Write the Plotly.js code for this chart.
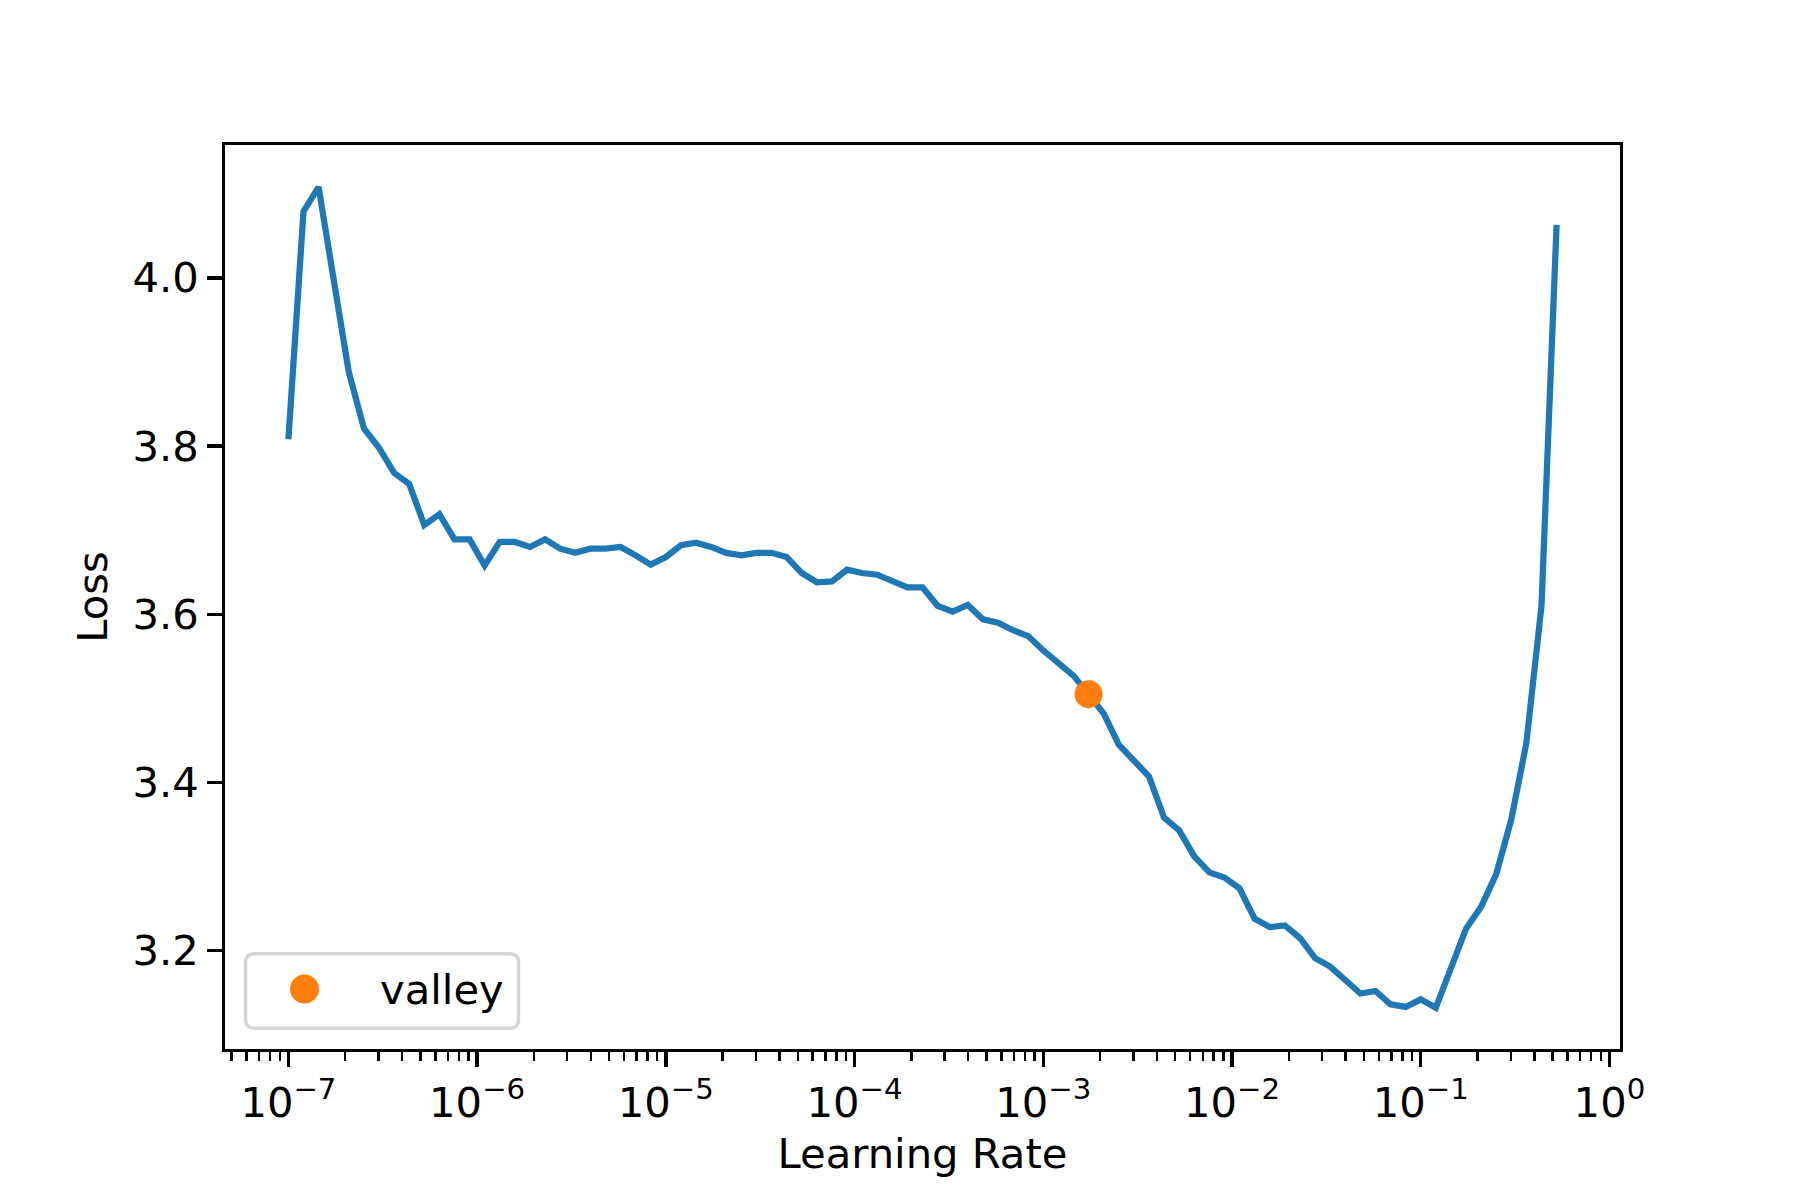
<!DOCTYPE html>
<html>
<head>
<meta charset="utf-8">
<script src="https://cdn.plot.ly/plotly-3.0.1.min.js"></script>
<style>html,body{margin:0;padding:0;background:#fff;}#chart{width:1800px;height:1200px;}</style>
</head>
<body>
<div id="chart"></div>
<script>
// Learning rates (exponential schedule)
const learningRates = [
  1.000e-7, 1.202e-7, 1.445e-7, 1.738e-7, 2.089e-7, 2.512e-7, 3.020e-7, 3.631e-7, 4.365e-7, 5.248e-7,
  6.310e-7, 7.586e-7, 9.120e-7, 1.096e-6, 1.318e-6, 1.585e-6, 1.905e-6, 2.291e-6, 2.754e-6, 3.311e-6,
  3.981e-6, 4.786e-6, 5.754e-6, 6.918e-6, 8.318e-6, 1.000e-5, 1.202e-5, 1.445e-5, 1.738e-5, 2.089e-5,
  2.512e-5, 3.020e-5, 3.631e-5, 4.365e-5, 5.248e-5, 6.310e-5, 7.586e-5, 9.120e-5, 1.096e-4, 1.318e-4,
  1.585e-4, 1.905e-4, 2.291e-4, 2.754e-4, 3.311e-4, 3.981e-4, 4.786e-4, 5.754e-4, 6.918e-4, 8.318e-4,
  1.000e-3, 1.202e-3, 1.445e-3, 1.738e-3, 2.089e-3, 2.512e-3, 3.020e-3, 3.631e-3, 4.365e-3, 5.248e-3,
  6.310e-3, 7.586e-3, 9.120e-3, 1.096e-2, 1.318e-2, 1.585e-2, 1.905e-2, 2.291e-2, 2.754e-2, 3.311e-2,
  3.981e-2, 4.786e-2, 5.754e-2, 6.918e-2, 8.318e-2, 1.000e-1, 1.202e-1, 1.445e-1, 1.738e-1, 2.089e-1,
  2.512e-1, 3.020e-1, 3.631e-1, 4.365e-1, 5.248e-1
];
// Loss values
const losses = [
  3.808, 4.079, 4.108, 3.999, 3.888, 3.821, 3.798, 3.768, 3.755, 3.706,
  3.719, 3.689, 3.689, 3.658, 3.686, 3.686, 3.680, 3.689, 3.678, 3.673,
  3.678, 3.678, 3.680, 3.670, 3.659, 3.668, 3.682, 3.685, 3.680, 3.673,
  3.670, 3.673, 3.673, 3.668, 3.649, 3.638, 3.639, 3.653, 3.649, 3.647,
  3.639, 3.632, 3.632, 3.610, 3.603, 3.611, 3.594, 3.590, 3.581, 3.574,
  3.557, 3.541, 3.527, 3.505, 3.482, 3.445, 3.427, 3.407, 3.358, 3.343,
  3.312, 3.293, 3.287, 3.274, 3.238, 3.228, 3.230, 3.215, 3.191, 3.181,
  3.165, 3.149, 3.152, 3.136, 3.133, 3.142, 3.132, 3.179, 3.226, 3.252,
  3.291, 3.356, 3.447, 3.610, 4.063
];
// Suggested point
const valleyLr = [1.738e-3];
const valleyLoss = [3.505];
const valleyLabel = "valley";

// Axis ticks
const xTickVals = [1e-7, 1e-6, 1e-5, 1e-4, 1e-3, 1e-2, 1e-1, 1e0];
const xTickText = ["10<sup>\u22127</sup>", "10<sup>\u22126</sup>", "10<sup>\u22125</sup>", "10<sup>\u22124</sup>",
                   "10<sup>\u22123</sup>", "10<sup>\u22122</sup>", "10<sup>\u22121</sup>", "10<sup>0</sup>"];
const yTickVals = [3.2, 3.4, 3.6, 3.8, 4.0];
const yTickText = ["3.2", "3.4", "3.6", "3.8", "4.0"];
const xTitle = "Learning Rate";
const yTitle = "Loss";

// minor log ticks (axis decoration)
const minorVals = [];
for (let e = -8; e <= -1; e++) {
  for (let m = 2; m <= 9; m++) minorVals.push(m * Math.pow(10, e));
}

const FONT = "DejaVu Sans, sans-serif";
const FS = 41.7;

const traces = [
  {
    x: learningRates, y: losses, type: "scatter", mode: "lines",
    line: {color: "#1f77b4", width: 6.25},
    showlegend: false, hoverinfo: "x+y"
  },
  {
    x: valleyLr, y: valleyLoss, type: "scatter", mode: "markers",
    name: valleyLabel,
    marker: {color: "#ff7f0e", size: 28},
    showlegend: false
  }
];

const layout = {
  width: 1800, height: 1200,
  margin: {l: 225, r: 180, t: 145, b: 151, pad: 0},
  paper_bgcolor: "#ffffff", plot_bgcolor: "#ffffff",
  font: {family: FONT, size: FS, color: "#000000"},
  showlegend: false,
  xaxis: {
    type: "log",
    range: [-7.336, 0.056],
    tickmode: "array", tickvals: xTickVals, ticktext: xTickText,
    ticks: "outside", ticklen: 14.6, tickwidth: 3.33, tickcolor: "#000",
    showline: true, linewidth: 3.33, linecolor: "#000", mirror: true,
    showgrid: false, zeroline: false,
    tickfont: {family: FONT, size: FS, color: "#000"},
    minor: {tickmode: "array", tickvals: minorVals, ticks: "outside", ticklen: 8.3, tickwidth: 2.5, tickcolor: "#000", showgrid: false},
    title: {text: xTitle, font: {family: FONT, size: FS, color: "#000"}, standoff: 14},
    automargin: false
  },
  yaxis: {
    range: [3.083, 4.158],
    tickmode: "array", tickvals: yTickVals, ticktext: yTickText,
    ticks: "outside", ticklen: 14.6, tickwidth: 3.33, tickcolor: "#000",
    showline: true, linewidth: 3.33, linecolor: "#000", mirror: true,
    showgrid: false, zeroline: false,
    tickfont: {family: FONT, size: FS, color: "#000"},
    title: {text: yTitle, font: {family: FONT, size: FS, color: "#000"}, standoff: 12},
    automargin: false
  },
  shapes: [
    {
      type: "path", xref: "paper", yref: "paper", xsizemode: "pixel", ysizemode: "pixel",
      xanchor: 0, yanchor: 0,
      path: "M 29.5 20.8 L 284.5 20.8 Q 293.5 20.8 293.5 29.8 L 293.5 86.3 Q 293.5 95.3 284.5 95.3 L 29.5 95.3 Q 20.5 95.3 20.5 86.3 L 20.5 29.8 Q 20.5 20.8 29.5 20.8 Z",
      line: {color: "#d6d6d6", width: 3.5}, fillcolor: "rgba(255,255,255,0.8)", layer: "above"
    },
    {
      type: "circle", xref: "paper", yref: "paper", xsizemode: "pixel", ysizemode: "pixel",
      xanchor: 0, yanchor: 0, x0: 65, x1: 94, y0: 45.5, y1: 74.5,
      line: {width: 0}, fillcolor: "#ff7f0e", layer: "above"
    }
  ],
  annotations: [
    {
      text: valleyLabel, xref: "paper", yref: "paper", x: 0, y: 0,
      xanchor: "left", yanchor: "middle", xshift: 153, yshift: 60,
      showarrow: false, font: {family: FONT, size: FS, color: "#000"}
    }
  ]
};

Plotly.newPlot("chart", traces, layout, {displayModeBar: false, staticPlot: true});
</script>
</body>
</html>
